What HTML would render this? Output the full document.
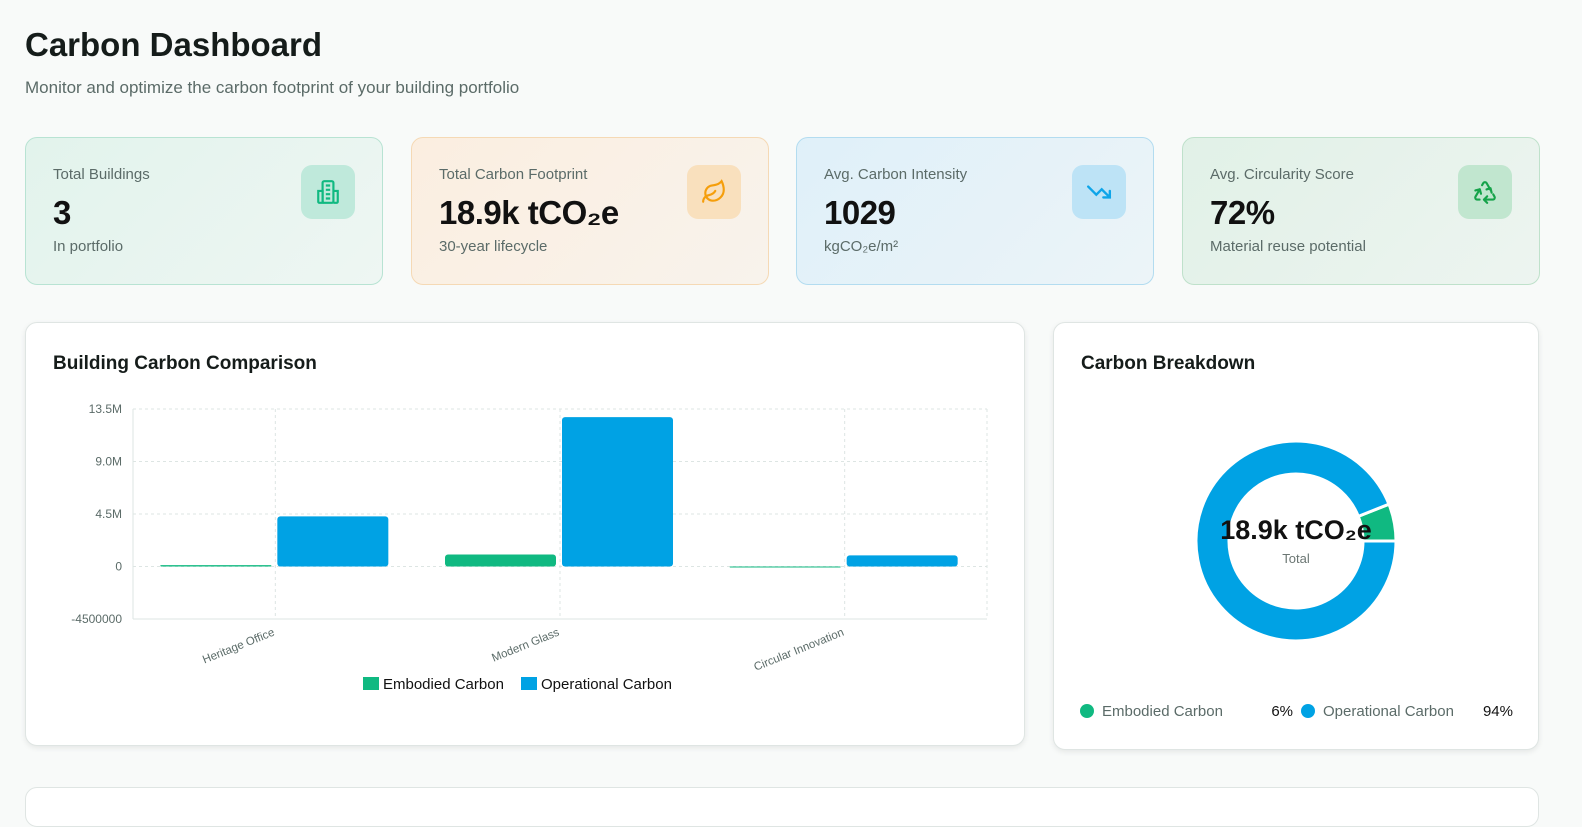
<!DOCTYPE html>
<html><head><meta charset="utf-8"><style>
*{box-sizing:border-box;margin:0;padding:0}
body{width:1582px;height:797px;overflow:hidden;background:#f8faf9;font-family:"Liberation Sans",sans-serif;position:relative;color:#111}
.abs{position:absolute}
h1{position:absolute;left:25px;top:26px;font-size:33px;font-weight:700;color:#151c1a}
.sub{left:25px;top:78px;font-size:17px;color:#5b6b68}
.card{position:absolute;top:137px;width:358px;height:148px;border-radius:12px;border:1px solid}
.card .l{position:absolute;left:27px;top:28px;font-size:15px;color:#5b6b68}
.card .v{position:absolute;left:27px;top:56px;font-size:33px;font-weight:700;color:#111;letter-spacing:-0.5px}
.card .s{position:absolute;left:27px;top:100px;font-size:15px;color:#5b6b68}
.card .ic{position:absolute;right:27px;top:27px;width:54px;height:54px;border-radius:11px;display:flex;align-items:center;justify-content:center}
.panel{position:absolute;background:#fff;border:1px solid #dfe5e3;border-radius:12px;box-shadow:0 2px 6px rgba(0,0,0,.08)}
.panel h2{position:absolute;left:27px;top:30px;font-size:19px;font-weight:700;color:#151c1a}
</style></head><body>
<h1>Carbon Dashboard</h1>
<div class="abs sub">Monitor and optimize the carbon footprint of your building portfolio</div>

<div class="card" style="left:25px;background:linear-gradient(135deg,#e2f3ec,#eef6f3);border-color:#b8e3d3">
<div class="l">Total Buildings</div><div class="v">3</div><div class="s">In portfolio</div>
<div class="ic" style="background:#bfe9db"><svg width="26" height="26" viewBox="0 0 24 24" fill="none" stroke="#10b981" stroke-width="2"><rect x="7" y="2" width="10" height="20" rx="1.5"/><path d="M3 11h4v11H4a1 1 0 0 1-1-1zM17 11h4v10a1 1 0 0 1-1 1h-3M10 6h4M10 10h4M10 14h4M10 18h4"/></svg></div></div>

<div class="card" style="left:411px;background:linear-gradient(135deg,#fbeee0,#f8f3ec);border-color:#f5d9b5">
<div class="l">Total Carbon Footprint</div><div class="v">18.9k tCO₂e</div><div class="s">30-year lifecycle</div>
<div class="ic" style="background:#f9e0bd"><svg width="26" height="26" viewBox="0 0 24 24" fill="none" stroke="#f59e0b" stroke-width="2" stroke-linecap="round"><path d="M11 20A7 7 0 0 1 9.8 6.1C15.5 5 17 4.5 19 2c1 2 2 4.2 2 8 0 5.5-4.8 10-10 10Z"/><path d="M2 21c0-3 1.9-5.4 5.2-6.1 2.5-.5 5-2 6-3.9"/></svg></div></div>

<div class="card" style="left:796px;background:linear-gradient(135deg,#dff0f9,#ecf4f8);border-color:#b3dcf0">
<div class="l">Avg. Carbon Intensity</div><div class="v">1029</div><div class="s">kgCO₂e/m²</div>
<div class="ic" style="background:#bde3f6"><svg width="26" height="26" viewBox="0 0 24 24" fill="none" stroke="#0ea5e9" stroke-width="2.2" stroke-linecap="round"><path d="M2 7l7.5 7.5 5-5L22 17M16 17h6v-6"/></svg></div></div>

<div class="card" style="left:1182px;background:linear-gradient(135deg,#e1f1e7,#edf4f0);border-color:#bfe1cb">
<div class="l">Avg. Circularity Score</div><div class="v">72%</div><div class="s">Material reuse potential</div>
<div class="ic" style="background:#c1e6cf"><svg width="26" height="26" viewBox="0 0 24 24" fill="none" stroke="#16a34a" stroke-width="2" stroke-linecap="round" stroke-linejoin="round"><path d="M7 19H4.8a1.8 1.8 0 0 1-1.6-2.7L7.2 9.5M11 19h8.2a1.8 1.8 0 0 0 1.6-2.7l-1.2-2.1M14 16l-3 3 3 3M8.3 13.6 7.2 9.5 3.1 10.6M9.3 5.7l1.1-1.9a1.8 1.8 0 0 1 3.1 0l3.9 6.8M13.4 9.6l3.7-1.1 1 4.1"/></svg></div></div>

<div class="panel" style="left:25px;top:322px;width:1000px;height:424px"><h2>Building Carbon Comparison</h2></div>
<div class="panel" style="left:1053px;top:322px;width:486px;height:428px"><h2>Carbon Breakdown</h2></div>
<div class="panel" style="left:25px;top:787px;width:1514px;height:40px;box-shadow:none"></div>

<svg id="bars" class="abs" style="left:0;top:0" width="1582" height="797"></svg>

<svg id="donut" class="abs" style="left:0;top:0" width="1582" height="797"></svg>
<div class="abs" style="left:1186px;top:515px;width:220px;text-align:center;font-size:27px;font-weight:700;color:#111">18.9k tCO₂e</div>
<div class="abs" style="left:1196px;top:551px;width:200px;text-align:center;font-size:13px;color:#6b7673">Total</div>

<div class="abs" style="left:1080px;top:703px;font-size:15px;color:#5b6b68;width:213px"><span style="display:inline-block;width:14px;height:14px;border-radius:50%;background:#10b981;vertical-align:-2px;margin-right:8px"></span>Embodied Carbon<span style="position:absolute;right:0;color:#111">6%</span></div>
<div class="abs" style="left:1301px;top:703px;font-size:15px;color:#5b6b68;width:212px"><span style="display:inline-block;width:14px;height:14px;border-radius:50%;background:#00a2e4;vertical-align:-2px;margin-right:8px"></span>Operational Carbon<span style="position:absolute;right:0;color:#111">94%</span></div>

<script>
const categories=["Heritage Office","Modern Glass","Circular Innovation"];
const embodied=[0.12e6,1.03e6,-0.05e6];
const operational=[4.3e6,12.8e6,0.95e6];
const tickValues=[13.5e6,9e6,4.5e6,0,-4.5e6];
const tickLabels=["13.5M","9.0M","4.5M","0","-4500000"];
const donutLabels=["Embodied Carbon","Operational Carbon"];
const donutValues=[6,94];

const NS="http://www.w3.org/2000/svg";
function mk(p,t,a){const e=document.createElementNS(NS,t);for(const k in a)e.setAttribute(k,a[k]);p.appendChild(e);return e;}
const svg=document.getElementById('bars');
const X0=133,X1=987,Y0=409,Y1=619,vmax=13.5e6,vmin=-4.5e6;
const y=v=>Y0+(vmax-v)/(vmax-vmin)*(Y1-Y0);
const bw=(X1-X0)/categories.length;
const xc=i=>X0+bw*i;
tickValues.forEach((v,i)=>{
  const l=mk(svg,'line',{x1:X0,x2:X1,y1:y(v),y2:y(v),stroke:'#dde5e3','stroke-dasharray':'3 3'});
  
  
  const t=mk(svg,'text',{x:X0-11,y:y(v)+4,'text-anchor':'end','font-size':12,fill:'#5b6b68'});
  t.textContent=tickLabels[i];
  
  
});
const rl=mk(svg,'line',{x1:X1,x2:X1,y1:Y0,y2:Y1,stroke:'#dde5e3','stroke-dasharray':'3 3'});


categories.forEach((c,i)=>{
  const mx=xc(i)+bw/2;
  const l=mk(svg,'line',{x1:mx,x2:mx,y1:Y0,y2:Y1,stroke:'#dde5e3','stroke-dasharray':'3 3'});
  
  
  const draw=(v,x,col,name)=>{
    const top=Math.min(y(v),y(0)),h=Math.max(Math.abs(y(v)-y(0)),1);
    const r=mk(svg,'rect',{x:x,y:top,width:111,height:h,rx:Math.min(3,h/2),fill:col});
    
    
  };
  draw(embodied[i],mx-115,'#10b981','bar-embodied');
  draw(operational[i],mx+2,'#00a2e4','bar-operational');
  const t=mk(svg,'text',{x:mx,y:Y1+16,'text-anchor':'end','font-size':11.5,fill:'#5b6b68',transform:`rotate(-22 ${mx} ${Y1+16})`});
  t.textContent=c;
  
  
});
mk(svg,'line',{x1:X0,x2:X1,y1:Y1,y2:Y1,stroke:'#dde5e3'});
mk(svg,'line',{x1:X0,x2:X0,y1:Y0,y2:Y1,stroke:'#dde5e3'});
const lg=[["Embodied Carbon",'#10b981',363],["Operational Carbon",'#00a2e4',521]];
lg.forEach(a=>{
  const r=mk(svg,'rect',{x:a[2],y:677,width:16,height:13,fill:a[1]});
  
  
  const t=mk(svg,'text',{x:a[2]+20,y:689,'font-size':15,fill:'#111'});
  t.textContent=a[0];
  
  
});

const d=document.getElementById('donut');
const cx=1296,cy=541,R=100,r=67;
const tot=donutValues.reduce((a,b)=>a+b,0);
let ang=0;const cols=['#10b981','#00a2e4'];
donutValues.forEach((v,i)=>{
  const a0=ang,a1=ang+v/tot*2*Math.PI;ang=a1;
  const p=(a,rad)=>[cx+rad*Math.cos(a),cy-rad*Math.sin(a)];
  const [x0,y0]=p(a0,R),[x1,y1]=p(a1,R),[x2,y2]=p(a1,r),[x3,y3]=p(a0,r);
  const large=(a1-a0)>Math.PI?1:0;
  const path=mk(d,'path',{d:`M${x0},${y0}A${R},${R} 0 ${large} 0 ${x1},${y1}L${x2},${y2}A${r},${r} 0 ${large} 1 ${x3},${y3}Z`,fill:cols[i],stroke:'#fff','stroke-width':3});
  
  
});
</script>
</body></html>
